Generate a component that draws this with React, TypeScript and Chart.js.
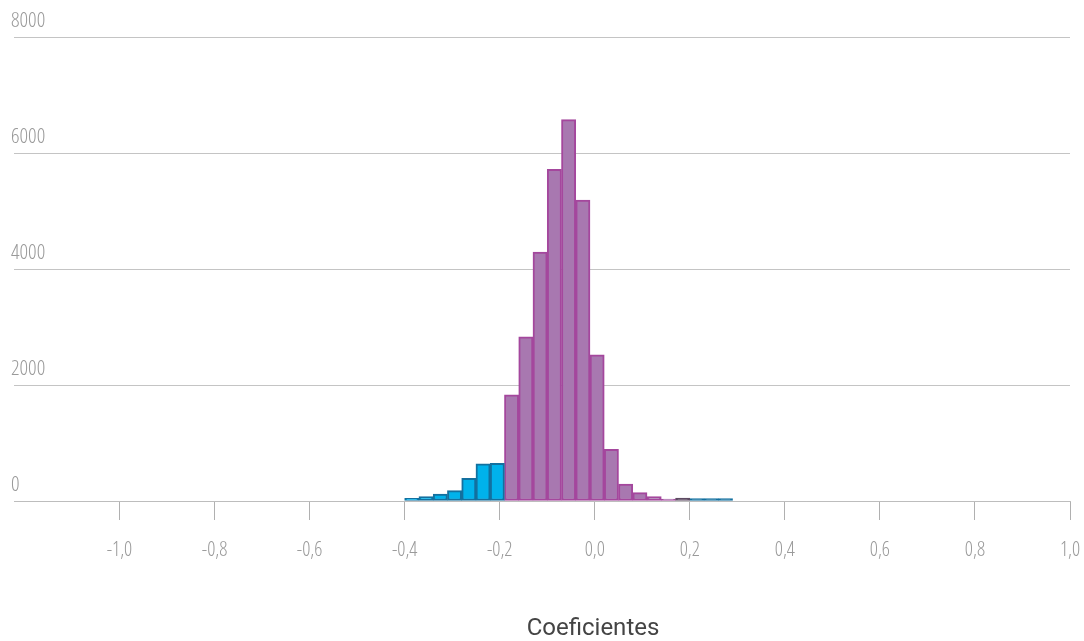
import React, { useEffect, useRef } from "react";
import { Chart, registerables } from "chart.js";

Chart.register(...registerables);

// Bin centres (bin width 0.03) and counts
const blueLeftX = [-0.385, -0.355, -0.325, -0.295, -0.265, -0.235, -0.205];
const blueLeftY = [45, 75, 120, 180, 390, 640, 650];
const purpleX = [-0.175, -0.145, -0.115, -0.085, -0.055, -0.025, 0.005, 0.035, 0.065, 0.095, 0.125, 0.155, 0.185];
const purpleY = [1830, 2830, 4290, 5720, 6575, 5190, 2520, 890, 290, 145, 75, 35, 50];
const blueRightX = [0.215, 0.245, 0.275];
const blueRightY = [40, 40, 40];

const xTicks = [-1.0, -0.8, -0.6, -0.4, -0.2, 0.0, 0.2, 0.4, 0.6, 0.8, 1.0];
const yTicks = [0, 2000, 4000, 6000, 8000];
const xTitle = "Coeficientes";

const pts = (xs: number[], ys: number[]) => xs.map((x, i) => ({ x, y: ys[i] }));

const CONDENSED = "'Open Sans'";

export default function App() {
  const ref = useRef<HTMLCanvasElement>(null);
  useEffect(() => {
    document.body.style.margin = "0";
    const canvas = ref.current!;
    const ctx = canvas.getContext("2d")! as any;
    const desc = Object.getOwnPropertyDescriptor(CanvasRenderingContext2D.prototype, "font")!;
    Object.defineProperty(ctx, "font", {
      configurable: true,
      get() {
        return desc.get!.call(this);
      },
      set(v: string) {
        desc.set!.call(this, v);
        this.fontStretch = v.indexOf("Open Sans") >= 0 ? "condensed" : "normal";
      },
    });

    const blueFill = "#00b2eb";
    const blueBorder = "#13709f";
    const purpleFill = "#a878b0";
    const purpleBorder = "#a4479d";
    const mixed = "#5e4b63";
    const lastP = purpleX.length - 1;

    const barCommon = {
      grouped: false,
      barPercentage: 1,
      categoryPercentage: 1,
      borderWidth: 2,
      borderSkipped: false as const,
    };

    const chart = new Chart(ctx, {
      type: "bar",
      data: {
        datasets: [
          { ...barCommon, label: "a", data: pts(blueLeftX, blueLeftY), backgroundColor: blueFill, borderColor: blueBorder },
          {
            ...barCommon,
            label: "b",
            data: pts(purpleX, purpleY),
            backgroundColor: purpleX.map((_, i) => (i === lastP ? mixed : purpleFill)),
            borderColor: purpleX.map((_, i) => (i === lastP ? mixed : purpleBorder)),
          },
          { ...barCommon, label: "c", data: pts(blueRightX, blueRightY), backgroundColor: blueBorder, borderColor: blueBorder },
        ],
      },
      options: {
        animation: false,
        responsive: false,
        devicePixelRatio: 1,
        layout: { padding: { left: 14, right: 14, top: 37, bottom: 0 } },
        plugins: { legend: { display: false }, tooltip: { enabled: false } },
        scales: {
          x: {
            type: "linear",
            min: -1.222,
            max: 1.0,
            offset: false,
            afterBuildTicks: (s: any) => {
              s.ticks = xTicks.map((v) => ({ value: v }));
            },
            afterFit: (s: any) => {
              s.height = 140;
              s.paddingLeft = 0;
              s.paddingRight = 0;
              if (!s.__patched) {
                const orig = s.drawTitle;
                s.drawTitle = function () {
                  const c = this.ctx;
                  c.save();
                  c.translate(51, 0);
                  orig.call(this);
                  c.restore();
                };
                s.__patched = true;
              }
            },
            grid: {
              offset: false,
              drawOnChartArea: false,
              drawTicks: true,
              tickLength: 19,
              tickColor: "#b0b0b0",
              tickWidth: 1,
            },
            border: { display: true, color: "#bdbdbd", width: 1 },
            ticks: {
              autoSkip: false,
              maxRotation: 0,
              padding: 18,
              color: "#9a9a9a",
              font: { family: CONDENSED, size: 20, weight: 300 },
              callback: (v: any) => Number(v).toFixed(1).replace(".", ","),
            },
            title: {
              display: true,
              text: xTitle,
              color: "#444444",
              padding: { top: 0, bottom: 0 },
              font: { family: "Roboto", size: 24, weight: 400, lineHeight: 1 },
            },
          },
          y: {
            min: 0,
            max: 8000,
            afterBuildTicks: (s: any) => {
              s.ticks = yTicks.map((v) => ({ value: v }));
            },
            afterFit: (s: any) => {
              s.width = 0;
              s.paddingTop = 0;
              s.paddingBottom = 0;
            },
            grid: {
              drawTicks: false,
              color: "#c4c4c4",
              lineWidth: 1,
            },
            border: { display: false },
            ticks: {
              mirror: true,
              padding: -3,
              labelOffset: -16,
              color: "#9a9a9a",
              font: { family: CONDENSED, size: 21, weight: 300 },
              callback: (v: any) => String(v),
            },
          },
        },
      },
    });
    return () => chart.destroy();
  }, []);
  return (
    <div style={{ position: "absolute", left: 0, top: 0, width: 1084, height: 641 }}>
      <canvas ref={ref} width={1084} height={641} style={{ display: "block" }} />
    </div>
  );
}
